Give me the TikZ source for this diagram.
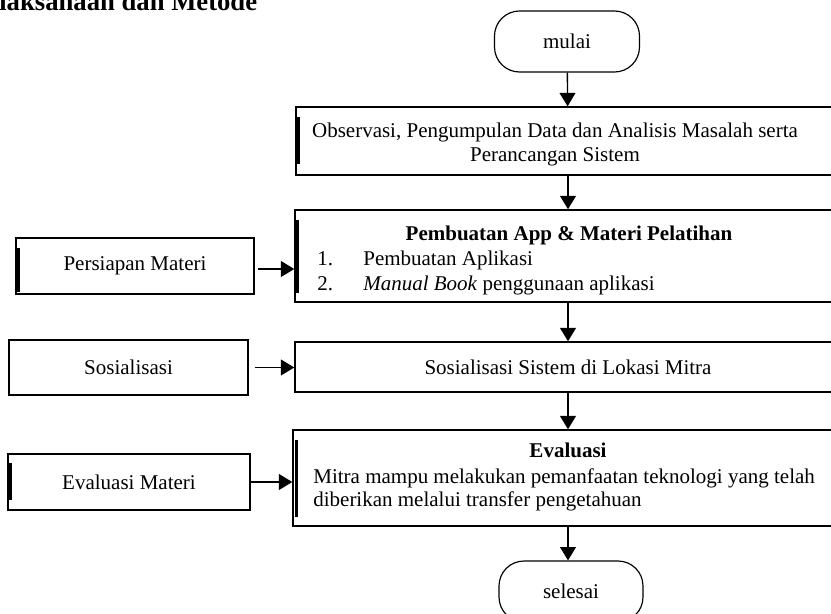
\documentclass[tikz,border=0pt]{standalone}
\usepackage{fontspec}
\setmainfont{Liberation Serif}
\usetikzlibrary{arrows.meta, positioning}
\newcommand{\flowfont}{\fontsize{12.6}{14.4}\selectfont}

\begin{document}
\begin{tikzpicture}[x=0.6pt, y=-0.6pt,
        box/.style={rectangle, draw=black, line width=0.9pt, inner sep=0pt, font=\flowfont},
        term/.style={rectangle, rounded corners=15pt, draw=black, line width=0.7pt, minimum width=87pt, minimum height=36.6pt, font=\flowfont},
        txt/.style={inner sep=0pt, font=\flowfont},
        bar/.style={line width=1.8pt},
        arrow/.style={-{Triangle[length=8pt, width=9.5pt]}, line width=0.8pt}
    ]
        \useasboundingbox (0,0) rectangle (831,613);
        \clip (0,0) rectangle (831,613);

        % Heading (cut off at the top)
        \node[anchor=base west, inner sep=0pt, font=\fontsize{16}{19}\selectfont\bfseries] (judul) at (-1,10) {laksanaan dan Metode};

        % Main column
        \node[term] (mulai) at (567,41.5) {mulai};
        \node[box, minimum width=326.4pt, minimum height=40.8pt] (obs) at (568,141) {};
        \node[txt, align=center] (obstext) at (555,144) {Observasi, Pengumpulan Data dan Analisis Masalah serta\\Perancangan Sistem};
        \draw[bar] (298,117) -- (298,164);

        \node[box, minimum width=327.6pt, minimum height=55.2pt] (buat) at (568,256) {};
        \node[txt, anchor=base] (buattitle) at (569,240) {\textbf{Pembuatan App \& Materi Pelatihan}};
        \node[txt, anchor=base west] (item1) at (317,265) {\makebox[27.6pt][l]{1.}Pembuatan Aplikasi};
        \node[txt, anchor=base west] (item2) at (317,290) {\makebox[27.6pt][l]{2.}\textit{Manual Book} penggunaan aplikasi};
        \draw[bar] (297,220) -- (297,293);

        \node[box, minimum width=327.6pt, minimum height=30pt] (sos) at (568,367) {Sosialisasi Sistem di Lokasi Mitra};

        \node[box, minimum width=330pt, minimum height=57.6pt] (eval) at (568,478) {};
        \node[txt, anchor=base] (evaltitle) at (568,457) {\textbf{Evaluasi}};
        \node[txt, anchor=base west] (evalline1) at (313,483) {Mitra mampu melakukan pemanfaatan teknologi yang telah};
        \node[txt, anchor=base west] (evalline2) at (313,506) {diberikan melalui transfer pengetahuan};
        \draw[bar] (296,440) -- (296,517);

        \node[term, minimum width=86.4pt] (selesai) at (571,591.5) {selesai};

        \draw[arrow] (mulai) -- (obs);
        \draw[arrow] (obs) -- (buat);
        \draw[arrow] (buat) -- (sos);
        \draw[arrow] (sos) -- (eval);
        \draw[arrow] (eval) -- (eval |- selesai.north);

        % Side inputs
        \node[box, minimum width=142.8pt, minimum height=33.6pt] (persiapan) at (135,266) {Persiapan Materi};
        \draw[bar] (18,248) -- (18,292);
        \node[box, minimum width=143.4pt, minimum height=33pt] (sosialisasi) at (128.5,367.5) {Sosialisasi};
        \node[box, minimum width=145.2pt, minimum height=33.6pt] (evalmateri) at (129,482) {Evaluasi Materi};
        \draw[bar] (10,463) -- (10,500);

        \draw[arrow, shorten <=1.8pt] ([yshift=-1.8pt]persiapan.east) -- ([yshift=-1.8pt]persiapan.east -| buat.west);
        \draw[arrow, shorten <=3.6pt] (sosialisasi) -- (sosialisasi -| sos.west);
        \draw[arrow] (evalmateri) -- (evalmateri -| eval.west);
    \end{tikzpicture}
\end{document}
